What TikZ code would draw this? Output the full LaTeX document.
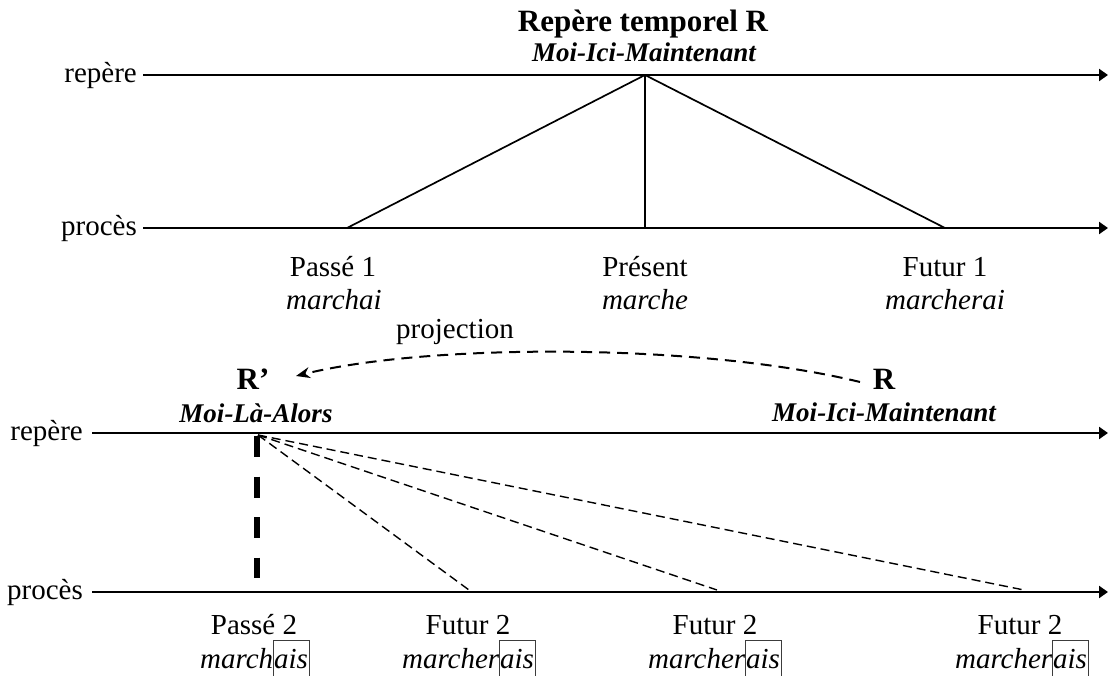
\documentclass[tikz,border=0pt]{standalone}
\usepackage{fontspec}
\setmainfont{Liberation Serif}
\usetikzlibrary{arrows.meta}
\definecolor{boxgray}{RGB}{60,60,60}
\newcommand{\aisbox}[1]{{\fboxsep=0pt\fboxrule=0.9pt\color{boxgray}\fbox{\color{black}\vrule width0pt height 27pt depth 8pt #1\kern1pt}}}
\tikzset{
  lbl/.style={inner sep=0pt, anchor=base, font=\fontsize{29}{35}\selectfont},
  boldlbl/.style={lbl, font=\fontsize{31}{35}\selectfont\bfseries},
  bilbl/.style={lbl, font=\fontsize{27}{35}\selectfont\bfseries\itshape},
  axisline/.style={line width=2.6pt, -{Triangle[length=9pt,width=12pt]}},
  solidline/.style={line width=1.7pt},
  thinDash/.style={line width=1.4pt, dash pattern=on 9pt off 5pt},
  thickDash/.style={line width=6pt, dash pattern=on 21pt off 19.5pt},
  projarrow/.style={line width=2pt, dash pattern=on 11pt off 7pt, -{Stealth[length=14pt,width=11pt]}}
}
\begin{document}
\begin{tikzpicture}[x=1pt,y=-1pt]
\useasboundingbox (0,0) rectangle (1109,676);
% ---------- top part ----------
\node[boldlbl] (title) at (643,32) {Repère temporel R};
\node[bilbl] (mim1) at (644,62) {Moi-Ici-Maintenant};
\node[lbl,anchor=base east] (rep1) at (137,83) {repère};
\node[lbl,anchor=base east] (pro1) at (137,236) {procès};
\coordinate (r1s) at (143,75);  \coordinate (r1e) at (1108,75);
\coordinate (p1s) at (143,228); \coordinate (p1e) at (1108,228);
\draw[axisline] (r1s) -- (r1e);
\draw[axisline] (p1s) -- (p1e);
\coordinate (apex) at (645,75);
\coordinate (fpast) at (347,228);
\coordinate (fpres) at (645,228);
\coordinate (ffut) at (945,228);
\draw[solidline] (fpast) -- (apex) -- (ffut);
\draw[line width=2pt] (apex) -- (fpres);
\node[lbl] (passe1) at (333,277) {Passé 1};
\node[lbl] (march1) at (334,310) {\itshape marchai};
\node[lbl] (pres) at (645,277) {Présent};
\node[lbl] (march2) at (645,310) {\itshape marche};
\node[lbl] (fut1) at (945,277) {Futur 1};
\node[lbl] (march3) at (945,310) {\itshape marcherai};
% ---------- projection ----------
\node[lbl] (projlbl) at (455,339) {projection};
\node[boldlbl] (Rp) at (253,390) {R’};
\node[bilbl] (mla) at (256,422) {Moi-Là-Alors};
\node[boldlbl] (Rr) at (884,390) {R};
\node[bilbl] (mim2) at (884,421) {Moi-Ici-Maintenant};
\coordinate (projs) at (860,382);
\coordinate (proje) at (296,376);
\draw[projarrow] (projs) .. controls (700,343) and (430,343) .. (proje);
% ---------- bottom part ----------
\node[lbl,anchor=base east] (rep2) at (83,440) {repère};
\node[lbl,anchor=base east] (pro2) at (83,599) {procès};
\coordinate (r2s) at (92,433);  \coordinate (r2e) at (1108,433);
\coordinate (p2s) at (92,592);  \coordinate (p2e) at (1108,592);
\draw[axisline] (r2s) -- (r2e);
\draw[axisline] (p2s) -- (p2e);
\coordinate (rprime) at (258,435);
\coordinate (vbot) at (257,578);
\draw[thickDash] (257,436) -- (vbot);
\coordinate (fa) at (469,590);
\coordinate (fb) at (717,590);
\coordinate (fc) at (1024,590);
\draw[thinDash] (rprime) -- (fa);
\draw[thinDash] (rprime) -- (fb);
\draw[thinDash] (rprime) -- (fc);
\node[lbl] (passe2) at (254,634) {Passé 2};
\node[lbl] (mais1) at (255,668) {\itshape march\aisbox{ais}};
\node[lbl] (futa) at (468,634) {Futur 2};
\node[lbl] (maisa) at (469,668) {\itshape marcher\aisbox{ais}};
\node[lbl] (futb) at (715,634) {Futur 2};
\node[lbl] (maisb) at (715,668) {\itshape marcher\aisbox{ais}};
\node[lbl] (futc) at (1020,634) {Futur 2};
\node[lbl] (maisc) at (1022,668) {\itshape marcher\aisbox{ais}};
\end{tikzpicture}
\end{document}
